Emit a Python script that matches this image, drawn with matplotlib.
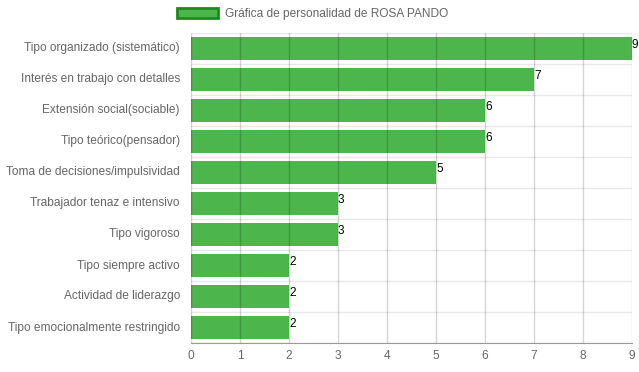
import matplotlib.pyplot as plt
import matplotlib.transforms as mtransforms
from matplotlib.patches import Patch

categorias = ['Tipo organizado (sistemático)', 'Interés en trabajo con detalles',
              'Extensión social(sociable)', 'Tipo teórico(pensador)',
              'Toma de decisiones/impulsividad', 'Trabajador tenaz e intensivo',
              'Tipo vigoroso', 'Tipo siempre activo', 'Actividad de liderazgo',
              'Tipo emocionalmente restringido']
valores = [9, 7, 6, 6, 5, 3, 3, 2, 2, 2]
ticks_x = [0, 1, 2, 3, 4, 5, 6, 7, 8, 9]
titulo = 'Gráfica de personalidad de ROSA PANDO'

plt.rcParams['font.family'] = ['Liberation Sans', 'DejaVu Sans']

fig = plt.figure(figsize=(6.39, 3.72), dpi=100)
ax = fig.add_axes([191/639, 1-343/372, 441/639, 310/372])

pos = list(range(len(categorias)))
ax.barh(pos, valores, height=0.72, color='#4cb54c', zorder=2)
for i in pos:
    ax.text(valores[i], i - 0.1, str(valores[i]), ha='left', va='center',
            fontsize=8.5, color='black', zorder=4)

ax.set_xlim(0, 9)
ax.set_ylim(len(categorias) - 0.5, -0.5)
ax.set_xticks(ticks_x)
ax.set_yticks(pos)
ax.set_yticklabels(categorias)
ax.tick_params(axis='both', colors='#666666', labelsize=8.6, length=0, pad=5)
ax.tick_params(axis='y', pad=8)
# nudge category labels up a little, like the original
shift = mtransforms.ScaledTranslation(0, 1.5/100, fig.dpi_scale_trans)
for lbl in ax.get_yticklabels():
    lbl.set_transform(lbl.get_transform() + shift)

# grid lines
for x in ticks_x:
    ax.axvline(x, color='black', alpha=0.17, lw=1, zorder=3)
for b in range(len(categorias) + 1):
    ax.axhline(b - 0.5, color='#e8e8e8', lw=1, zorder=1)

for s in ['top', 'right', 'left']:
    ax.spines[s].set_visible(False)
ax.spines['bottom'].set_color('#999999')

leg = fig.legend(handles=[Patch(facecolor='#4cb54c', edgecolor='#1e8a1e', lw=2, label=titulo)],
                 loc='center', bbox_to_anchor=(313/639, 1-14/372), frameon=False,
                 fontsize=8.6, handlelength=3.4, handleheight=0.9, handletextpad=0.6)
for t in leg.get_texts():
    t.set_color('#666666')

fig.savefig('out.png', dpi=100)
